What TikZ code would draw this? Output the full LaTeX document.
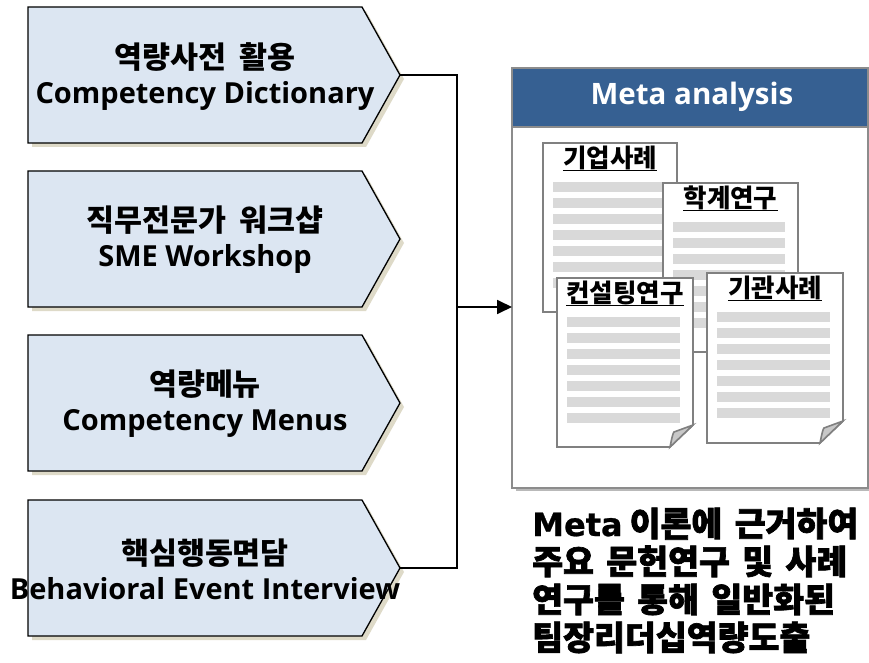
\documentclass[tikz,border=0pt]{standalone}
\usepackage{fontspec}
\usetikzlibrary{arrows.meta}
\newfontfamily\krb{Noto Sans CJK KR}[WordSpace=1.9]
\newfontfamily\krheavy{Noto Sans CJK KR}[WordSpace=1.6,BoldFeatures={FakeBold=2}]
\newfontfamily\enb{Open Sans}
\newfontfamily\enheavy{DejaVu Sans}[BoldFeatures={FakeBold=0.8}]
\definecolor{arrowfill}{RGB}{220,230,242}
\definecolor{shadowcol}{RGB}{222,218,200}
\definecolor{headerblue}{RGB}{54,96,146}
\definecolor{docgray}{RGB}{128,128,128}
\definecolor{bargray}{RGB}{217,217,217}
\definecolor{foldgray}{RGB}{200,200,200}
\definecolor{metaborder}{RGB}{140,140,140}
\definecolor{metashadow}{RGB}{185,185,185}
\newcommand\chevron[2]{%
  \fill[shadowcol] (32,#1+4) -- (366,#1+4) -- (404,#1+72) -- (366,#1+140) -- (32,#1+140) -- cycle;
  \draw[arrowbox] (28,#1) -- (362,#1) -- (400,#1+68) -- (362,#1+136) -- (28,#1+136) -- cycle;
  \coordinate (#2tip) at (400,#1+68);
}
\newcommand\docsheet[6]{% l t r b title name
  \draw[docline, fill=white] (#1,#2) -- (#3,#2) -- (#3,#4-22) -- (#3-23,#4) -- (#1,#4) -- cycle;
  \filldraw[docline, fill=foldgray] (#3-23,#4) .. controls (#3-21,#4-10) and (#3-20,#4-14) .. (#3-19,#4-15) -- (#3,#4-22) -- cycle;
  \foreach \k in {0,...,6} {\fill[bargray] (#1+10,#2+39+\k*16) rectangle (#3-13,#2+49+\k*16);}
  \node[doctitle] (#6) at ({(#1+#3)/2},#2+15) {#5};
  \draw[line width=1.5pt] ([yshift=-3pt]#6.base west) -- ([yshift=-3pt]#6.base east);
}
\begin{document}
\begin{tikzpicture}[x=1pt,y=-1pt,
  arrowbox/.style={draw=black, line width=1.3pt, fill=arrowfill},
  lbl/.style={align=center, inner sep=0pt, font=\fontsize{29}{35}\selectfont\bfseries},
  docline/.style={draw=docgray, line width=1.6pt},
  doctitle/.style={inner sep=0pt, font=\krb\fontsize{25.5}{28}\selectfont\bfseries},
  conn/.style={draw=black, line width=1.8pt},
  concl/.style={anchor=base west, inner sep=0pt, font=\krheavy\fontsize{33.6}{38}\selectfont\bfseries}
]
\useasboundingbox (0,0) rectangle (869,663);

% left chevrons
\chevron{7}{c1}
\chevron{171}{c2}
\chevron{335}{c3}
\chevron{500}{c4}
\node[lbl] (a1) at (205,77) {{\krb\fontsize{30.4}{35}\selectfont 역량사전 활용}\\{\enb Competency Dictionary}};
\node[lbl] (a2) at (205,240) {{\krb\fontsize{30.4}{35}\selectfont 직무전문가 워크샵}\\{\enb SME Workshop}};
\node[lbl] (a3) at (205,404) {{\krb\fontsize{30.4}{35}\selectfont 역량메뉴}\\{\enb Competency Menus}};
\node[lbl] (a4) at (205,569) {{\krb\fontsize{30.4}{35}\selectfont 핵심행동면담}\\{\enb Behavioral Event Interview}};

% meta analysis box
\fill[metashadow] (516,72) rectangle (869,491);
\node[draw=metaborder, line width=1.2pt, fill=white, minimum width=355pt, minimum height=419pt,
      inner sep=0pt, anchor=north west] (meta) at (512,68) {};
\fill[headerblue] (512,68) rectangle (867,127);
\draw[metaborder, line width=1.2pt] (meta.north west) rectangle (meta.south east);
\draw[metaborder, line width=1.2pt] (512,127) -- (867,127);
\node[text=white, inner sep=0pt, font=\enb\fontsize{29.5}{32}\selectfont\bfseries] (mt) at (692,97) {Meta analysis};

% connectors
\coordinate (j1) at (457,75);
\coordinate (j4) at (457,568);
\coordinate (jm) at (457,307);
\draw[conn] (c1tip) -- (j1) -- (j4) -- (c4tip);
\draw[conn,-{Triangle[length=15pt,width=14pt]}] (jm) -- (jm -| meta.west);

% documents
\docsheet{543}{143}{677}{312}{기업사례}{d1}
\docsheet{663}{183}{798}{352}{학계연구}{d2}
\docsheet{557}{278}{693}{447}{컨설팅연구}{d3}
\docsheet{707}{273}{843}{443}{기관사례}{d4}

% conclusion text
\node[concl] (l1) at (532,536) {{\enheavy\fontsize{32}{38}\selectfont Meta}\hspace{7pt}이론에 근거하여};
\node[concl] (l2) at (532,574) {주요 문헌연구 및 사례};
\node[concl] (l3) at (532,612) {연구를 통해 일반화된};
\node[concl] (l4) at (532,650) {팀장리더십역량도출};
\end{tikzpicture}
\end{document}
